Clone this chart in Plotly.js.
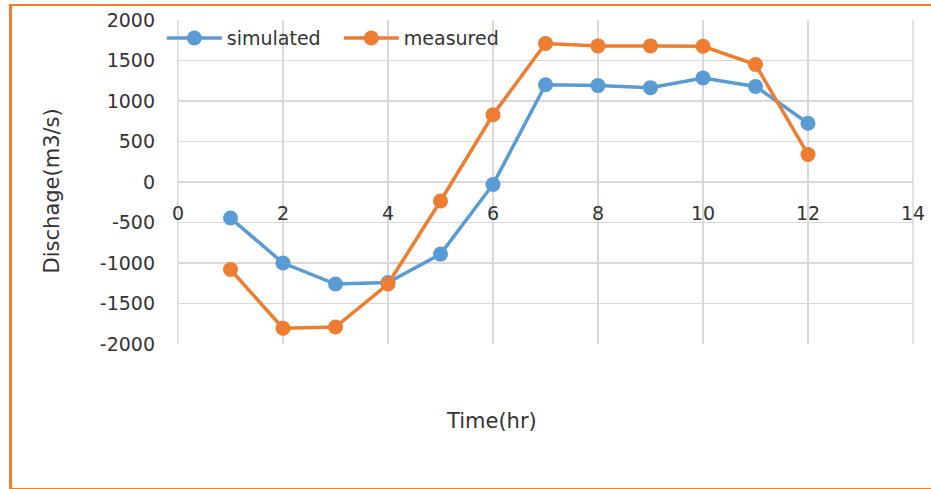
<!DOCTYPE html>
<html>
<head>
<meta charset="utf-8">
<script src="https://cdn.plot.ly/plotly-3.0.1.min.js"></script>
<style>
html,body{margin:0;padding:0;background:#fff;}
#wrap{position:relative;width:931px;height:489px;overflow:hidden;}
#chart{position:absolute;left:0;top:0;width:931px;height:489px;}
#frame{position:absolute;left:9px;top:4px;width:940px;height:482px;border-left:3px solid #ED7D31;border-top:2px solid #ED7D31;border-bottom:2px solid #ED7D31;pointer-events:none;}
</style>
</head>
<body>
<div id="wrap"><div id="chart"></div><div id="frame"></div></div>
<script>
const timeHr = [1,2,3,4,5,6,7,8,9,10,11,12];
const simulated = [-445,-1000,-1260,-1240,-890,-30,1200,1190,1165,1285,1180,725];
const measured = [-1080,-1805,-1790,-1260,-235,830,1710,1680,1680,1675,1450,340];
const yTickVals = [-2000,-1500,-1000,-500,0,500,1000,1500,2000];
const yTickText = ["-2000","-1500","-1000","-500","0","500","1000","1500","2000"];
const xTickVals = [0,2,4,6,8,10,12,14];
const seriesNames = ["simulated","measured"];

const fam = "'DejaVu Sans', sans-serif";
const font = {family:fam, size:19, color:"#333333"};
const titleFont = {family:fam, size:21, color:"#333333"};

const traces = [
  {x:timeHr, y:simulated, name:seriesNames[0], type:"scatter", mode:"lines+markers",
   line:{color:"#5B9BD5", width:3.5}, marker:{color:"#5B9BD5", size:15}},
  {x:timeHr, y:measured, name:seriesNames[1], type:"scatter", mode:"lines+markers",
   line:{color:"#ED7D31", width:3.5}, marker:{color:"#ED7D31", size:15}}
];

const layout = {
  width:931, height:489,
  margin:{l:178, r:18, t:20, b:145},
  paper_bgcolor:"#fff", plot_bgcolor:"#fff",
  font:font,
  showlegend:true,
  legend:{orientation:"h", x:-0.022, xanchor:"left", y:0.944, yanchor:"middle",
          bgcolor:"rgba(0,0,0,0)", font:font, itemwidth:55, traceorder:"normal",
          entrywidth:107},
  xaxis:{range:[0,14], tickvals:xTickVals, showgrid:true, gridcolor:"#d9d9d9", gridwidth:1.5,
         zeroline:false, showline:false, anchor:"free", position:0.5, ticks:"",
         ticklabelstandoff:18, tickfont:font},
  yaxis:{range:[-2000,2000], tickmode:"array", tickvals:yTickVals, ticktext:yTickText,
         showgrid:true, gridcolor:"#d9d9d9", gridwidth:1.5, zeroline:false, showline:false,
         ticks:"", ticklabelstandoff:22, tickfont:font},
  shapes:[
    {type:"line", xref:"paper", yref:"paper", x0:0, x1:0, y0:0, y1:1, line:{color:"#d9d9d9", width:1.5}, layer:"below"},
    {type:"line", xref:"paper", yref:"paper", x0:1, x1:1, y0:0, y1:1, line:{color:"#d9d9d9", width:1.5}, layer:"below"}
  ],
  annotations:[
    {text:"Time(hr)", xref:"paper", yref:"paper", x:0.426, y:-0.237, showarrow:false,
     xanchor:"center", yanchor:"middle", font:titleFont},
    {text:"Dischage(m3/s)", xref:"paper", yref:"paper", x:-0.171, y:0.472, showarrow:false,
     textangle:-90, xanchor:"center", yanchor:"middle", font:titleFont}
  ]
};

Plotly.newPlot("chart", traces, layout, {displayModeBar:false, staticPlot:true});
</script>
</body>
</html>
